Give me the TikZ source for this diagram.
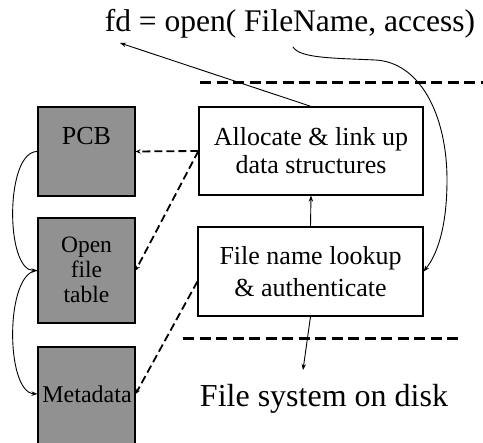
\documentclass[tikz,border=0pt]{standalone}
\usepackage{fontspec}
\setmainfont{Liberation Serif}
\usetikzlibrary{arrows.meta}
\definecolor{boxgray}{RGB}{145,145,145}
\begin{document}
\begin{tikzpicture}[x=1pt,y=-1pt,
  graybox/.style={draw=black,line width=1.2pt,fill=boxgray,minimum width=97pt,inner sep=0pt},
  wbox/.style={draw=black,line width=1.2pt,fill=white,minimum width=224pt,minimum height=88pt,inner sep=0pt,align=center},
  txt/.style={inner sep=0pt,align=center},
  sep/.style={line width=3pt,dash pattern=on 11pt off 5.5pt},
  arr/.style={-{Stealth[length=6pt,width=4.5pt]},line width=0.9pt},
  darr/.style={-{Stealth[length=5pt,width=4.5pt]},line width=1.8pt,dash pattern=on 8pt off 4pt}]
\useasboundingbox (0,0) rectangle (483,443);

% separators
\coordinate (t1) at (200,83);
\coordinate (t2) at (483,83);
\coordinate (b1) at (183,339);
\coordinate (b2) at (463,339);
\draw[sep] (t1) -- (t2);
\draw[sep] (b1) -- (b2);

% gray boxes
\node[graybox,minimum height=89pt] (pcb) at (86.5,151.5) {};
\node[graybox,minimum height=105pt] (oft) at (86.5,270.5) {};
\node[graybox,minimum height=98pt] (meta) at (86.5,396) {};
\node[txt,anchor=base,font=\fontsize{26}{26}\selectfont] (pcbt) at (86.5,145) {PCB};
\node[txt,font=\fontsize{23.5}{25}\selectfont] (ofttx) at (86.5,270) {Open\\file\\table};
\node[txt,font=\fontsize{24}{24}\selectfont] (metat) at (87,394) {Metadata};

% white boxes
\node[wbox,font=\fontsize{26}{28}\selectfont] (alloc) at (311,151) {Allocate \& link up\\data structures};
\node[wbox,font=\fontsize{26}{32}\selectfont,minimum width=225pt,minimum height=89pt] (lookup) at (310.5,271.5) {File name lookup\\\& authenticate};

% texts
\node[txt,anchor=base,font=\fontsize{31.5}{32}\selectfont] (title) at (290,32) {fd = open( FileName, access)};
\node[txt,anchor=base,font=\fontsize{32}{32}\selectfont] (disk) at (324,407) {File system on disk};

% connector end points
\coordinate (fdpt) at (120,43);
\coordinate (fnpt) at (293,47);
\coordinate (diskpt) at (303,370);

% arrows
\draw[arr] (alloc.north) -- (fdpt);
\draw[arr] (lookup.north) -- (alloc.south);
\draw[arr] (lookup.south) -- (diskpt);
\draw[arr] (fnpt) .. controls (300,58) and (330,58) .. (375,60)
  .. controls (420,62) and (447,115) .. (447,180)
  .. controls (447,230) and (436,256) .. (lookup.east);

% left curves
\draw[arr] (pcb.west) .. controls (5,151) and (5,271) .. (oft.west);
\draw[arr] (oft.west) .. controls (5,271) and (5,392) .. (meta.west |- metat.center);

% dashed arrows
\draw[darr] (alloc.west) -- (pcb.east);
\draw[darr] (alloc.west) -- (oft.east);
\draw[darr] ([yshift=-10pt]lookup.west) -- (meta.east |- metat.center);
\end{tikzpicture}
\end{document}
